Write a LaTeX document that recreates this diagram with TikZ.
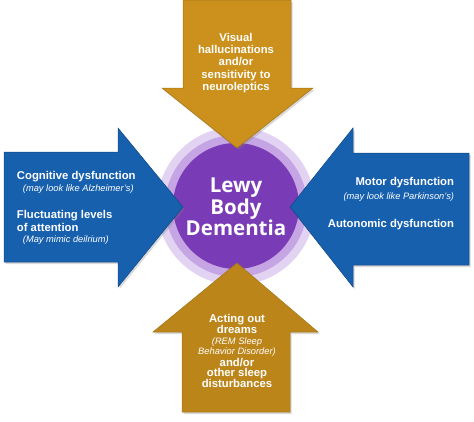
\documentclass[tikz,border=0pt]{standalone}
\usepackage{fontspec}
\setmainfont{Liberation Sans}
\newfontfamily\titlefont{Open Sans}
\usetikzlibrary{shadows}
\definecolor{goldmain}{HTML}{DCA025}
\definecolor{golddark}{HTML}{CB911C}
\definecolor{goldlight}{HTML}{EDB531}
\definecolor{bluemain}{HTML}{1C6FC4}
\definecolor{bluedark}{HTML}{1760AE}
\definecolor{bluelight}{HTML}{2586DA}
\definecolor{purplecore}{HTML}{7A3BB7}
\definecolor{purplering}{HTML}{B892DD}
\definecolor{purpleglow}{HTML}{E2D3F2}
\newcommand{\notefont}{\normalfont\itshape\fontsize{9.3}{10.5}\selectfont}
\tikzset{
  arrowshadow/.style={drop shadow={opacity=0.3,shadow xshift=1.5pt,shadow yshift=-2pt}},
  goldarrow/.style={arrowshadow,draw=golddark!80!black,line width=0.5pt,shading=axis,left color=golddark,middle color=goldlight,right color=golddark},
  bluearrow/.style={arrowshadow,draw=bluedark!75!black,line width=0.5pt,shading=axis,top color=bluedark,middle color=bluelight,bottom color=bluedark},
  labeltext/.style={text=white,inner sep=0.75pt,font=\bfseries\fontsize{11.3}{13}\selectfont}
}
\begin{document}
\begin{tikzpicture}[x=1pt,y=1pt,yscale=-1,xscale=1]
\useasboundingbox (0,0) rectangle (474,421);

%Shape: Circle glow [id:centre]
\fill [purpleglow] (236,206) circle (79);
\fill [purplering!70!purpleglow] (236,206) circle (71);
\fill [purplecore] (236,206) circle (63);

%Shape: Arrow down [id:top]
\path [goldarrow] (183,0) -- (291,0) -- (291,88) -- (313,88) -- (237,148) -- (162,88) -- (183,88) -- cycle ;
%Shape: Arrow up [id:bottom]
\path [goldarrow,left color=golddark!92!black,middle color=goldmain,right color=golddark!92!black] (237,263) -- (318,332) -- (290,332) -- (290,412) -- (182,412) -- (182,332) -- (153,332) -- cycle ;
%Shape: Arrow right [id:left]
\path [bluearrow] (4,152) -- (118,152) -- (118,128) -- (183,207) -- (118,287) -- (118,262) -- (4,262) -- cycle ;
%Shape: Arrow left [id:right]
\path [bluearrow] (469,153) -- (353,153) -- (353,128) -- (290,207) -- (353,287) -- (353,265) -- (469,265) -- cycle ;

% Text Node
\node (lbd) at (236,207) [text=white,align=center,font=\titlefont\bfseries\fontsize{20.5}{19.5}\selectfont] {Lewy\\Body\\Dementia};
% Text Node
\node (visual) at (236,63) [labeltext,align=center,font=\bfseries\fontsize{11.3}{12.2}\selectfont] {Visual\\hallucinations\\and/or\\sensitivity to\\neuroleptics};
% Text Node
\node (dreams) at (237,351) [labeltext,align=center,font=\bfseries\fontsize{11.3}{10.6}\selectfont] {Acting out\\dreams\\{\notefont (REM Sleep}\\{\notefont Behavior Disorder)}\\[0.8pt]and/or\\other sleep\\disturbances};
% Text Node
\node (cognitive) at (16,208) [labeltext,anchor=west,align=left] {Cognitive dysfunction\\[-1pt]\hspace*{6pt}{\notefont (may look like Alzheimer's)}\\[14pt]Fluctuating levels\\of attention\\[-2pt]\hspace*{6pt}{\notefont (May mimic deilrium)}};
% Text Node
\node (motor) at (455,204) [labeltext,anchor=east,align=right] {Motor dysfunction\\[1pt]{\notefont (may look like Parkinson's)}\\[15pt]Autonomic dysfunction};

\end{tikzpicture}
\end{document}
